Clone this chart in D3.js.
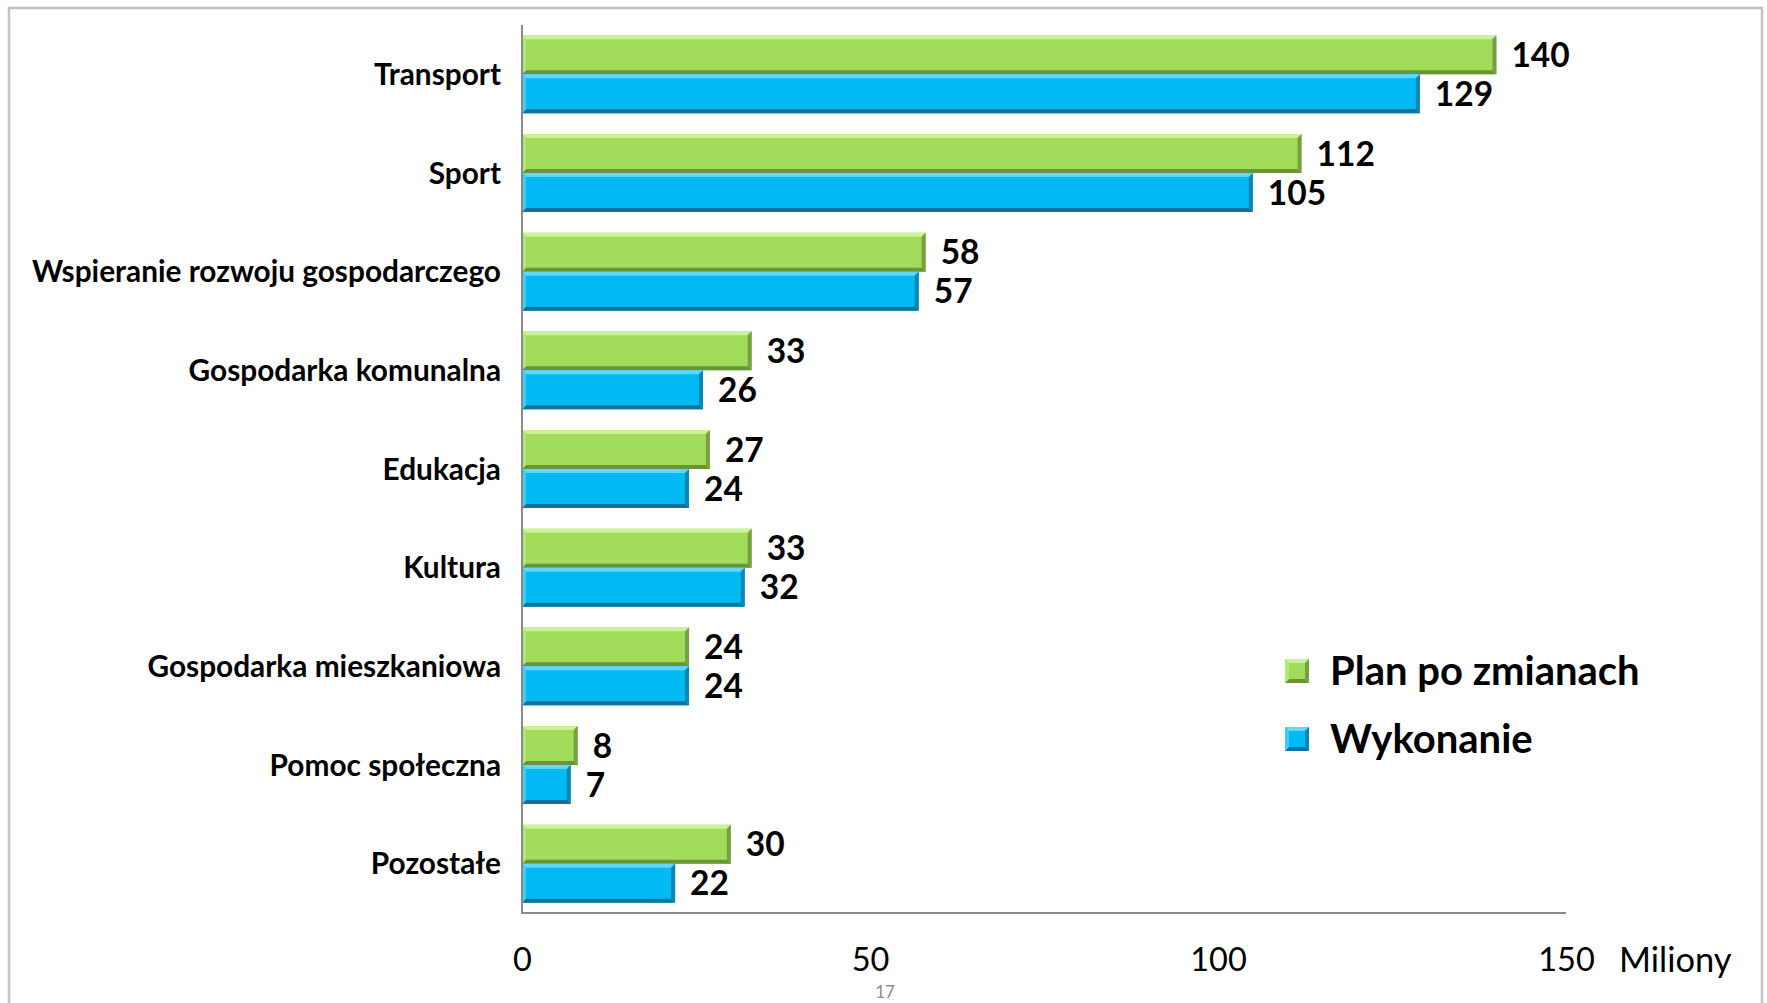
<!DOCTYPE html>
<html><head><meta charset="utf-8">
<script src="https://cdn.jsdelivr.net/npm/d3@7"></script>
<style>html,body{margin:0;padding:0;background:#fff;overflow:hidden}</style>
</head><body>
<svg id="c" width="1767" height="1003"></svg>
<script>
const categories = ["Transport","Sport","Wspieranie rozwoju gospodarczego","Gospodarka komunalna","Edukacja","Kultura","Gospodarka mieszkaniowa","Pomoc społeczna","Pozostałe"];
const planValues = [140,112,58,33,27,33,24,8,30];
const wykonanieValues = [129,105,57,26,24,32,24,7,22];
const seriesNames = ["Plan po zmianach","Wykonanie"];
const xTicks = [0,50,100,150];
const unitLabel = "Miliony";
const pageNumber = "17";

const svg = d3.select("#c");
const F = "Lato, 'DejaVu Sans', sans-serif";
const styles = [
  {main:"#A0DC5A", top:"#CBF294", bottom:"#6A933A", right:"#789F44", left:"#B4E677"},
  {main:"#02BAF3", top:"#62D6FB", bottom:"#10729A", right:"#0C86B2", left:"#3ECCF8"}
];

// outer frame
svg.append("rect").attr("x",9).attr("y",8).attr("width",1753).attr("height",1100)
  .attr("fill","none").attr("stroke","#C3C3C3").attr("stroke-width",2.5);

const x = d3.scaleLinear().domain([0,150]).range([522,1566]);
const y = d3.scaleBand().domain(categories).range([25,913]).paddingInner(0.21).paddingOuter(0.105);
const sub = d3.scaleBand().domain([0,1]).range([0,y.bandwidth()]);

const data = categories.map((c,i)=>({c, v:[planValues[i], wykonanieValues[i]]}));

function bevelBar(g, x0, y0, w, h, st){
  const b = Math.min(4, w/2, h/2);
  g.append("rect").attr("x",x0).attr("y",y0).attr("width",w).attr("height",h).attr("fill",st.main);
  g.append("polygon").attr("points",[[x0,y0],[x0+w,y0],[x0+w-b,y0+b],[x0+b,y0+b]].join(" ")).attr("fill",st.top);
  g.append("polygon").attr("points",[[x0,y0+h],[x0+w,y0+h],[x0+w-b,y0+h-b],[x0+b,y0+h-b]].join(" ")).attr("fill",st.bottom);
  g.append("polygon").attr("points",[[x0+w,y0],[x0+w,y0+h],[x0+w-b,y0+h-b],[x0+w-b,y0+b]].join(" ")).attr("fill",st.right);
  g.append("polygon").attr("points",[[x0,y0],[x0,y0+h],[x0+b,y0+h-b],[x0+b,y0+b]].join(" ")).attr("fill",st.left);
}

const gBars = svg.append("g");
data.forEach(d=>{
  d.v.forEach((v,k)=>{
    const g = gBars.append("g");
    const y0 = y(d.c)+sub(k), h = sub.bandwidth();
    bevelBar(g, x(0), y0, x(v)-x(0), h, styles[k]);
    svg.append("text").attr("x", x(v)+15).attr("y", y0+h/2).attr("dy","0.36em")
      .attr("font-family",F).attr("font-weight","bold").attr("font-size",33.5).attr("fill","#000")
      .text(v);
  });
});

// axes
const axisColor = "#8A8A8A";
svg.append("line").attr("x1",x(0)).attr("x2",x(0)).attr("y1",25).attr("y2",914)
  .attr("stroke",axisColor).attr("stroke-width",2);
svg.append("line").attr("x1",x(0)-1).attr("x2",x(150)).attr("y1",913).attr("y2",913)
  .attr("stroke",axisColor).attr("stroke-width",2);

// category labels
svg.append("g").selectAll("text").data(categories).join("text")
  .attr("x",501).attr("y",d=>y(d)+y.bandwidth()/2).attr("dy","0.36em")
  .attr("text-anchor","end").attr("font-family",F).attr("font-weight","bold")
  .attr("font-size",29.8).attr("fill","#000").text(d=>d);

// x tick labels
const xAxis = d3.axisBottom(x).tickValues(xTicks).tickSize(0).tickPadding(0);
const ga = svg.append("g").attr("transform","translate(0,955)").call(xAxis);
ga.select(".domain").remove();
ga.selectAll("text").attr("font-family",F).attr("font-size",32.5).attr("fill","#000").attr("dy","0.5em");

svg.append("text").attr("x",1619).attr("y",972).attr("font-family",F).attr("font-size",34.5)
  .attr("fill","#000").text(unitLabel);

// legend
const leg = svg.append("g");
seriesNames.forEach((n,k)=>{
  const ly = 659 + k*68;
  bevelBar(leg, 1285, ly, 24, 24, styles[k]);
  leg.append("text").attr("x",1330).attr("y",ly+12).attr("dy","0.36em")
    .attr("font-family",F).attr("font-weight","bold").attr("font-size",40).attr("fill","#000").text(n);
});

svg.append("text").attr("x",885).attr("y",998).attr("text-anchor","middle")
  .attr("font-family",F).attr("font-size",17).attr("fill","#8C8C8C").text(pageNumber);
</script>
</body></html>
